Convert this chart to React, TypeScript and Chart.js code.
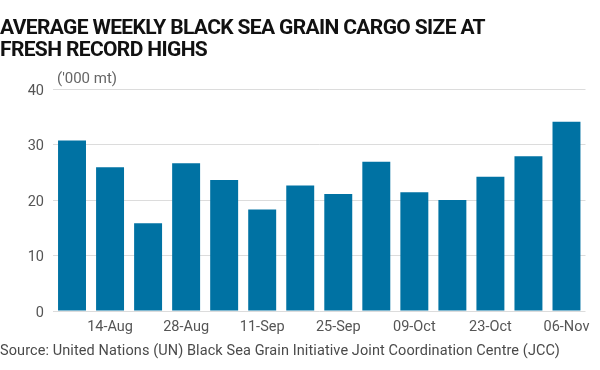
import React, { useEffect, useRef } from "react";
import { Chart, registerables } from "chart.js";

Chart.register(...registerables);

const categories = [
  "07-Aug", "14-Aug", "21-Aug", "28-Aug", "04-Sep", "11-Sep", "18-Sep",
  "25-Sep", "02-Oct", "09-Oct", "16-Oct", "23-Oct", "30-Oct", "06-Nov",
];
const cargoSize = [30.7, 25.9, 15.8, 26.6, 23.6, 18.3, 22.6, 21.1, 26.9, 21.4, 20.0, 24.2, 27.9, 34.1];
const yTicks = [0, 10, 20, 30, 40];

const titleLines = ["AVERAGE WEEKLY BLACK SEA GRAIN CARGO SIZE AT", "FRESH RECORD HIGHS"];
const unitText = "('000 mt)";
const sourceText = "Source: United Nations (UN) Black Sea Grain Initiative Joint Coordination Centre (JCC)";

const BAR = "#0072a3";
const FONT = "Roboto, 'Noto Sans', sans-serif";

function fitSpacing(el: HTMLElement | null, target: number, others: (HTMLElement | null)[] = []) {
  if (!el) return;
  el.style.letterSpacing = "0px";
  const w = el.getBoundingClientRect().width;
  const n = (el.textContent || "").length || 1;
  const ls = `${(target - w) / n}px`;
  el.style.letterSpacing = ls;
  others.forEach((o) => {
    if (o) o.style.letterSpacing = ls;
  });
}

export default function App() {
  const ref = useRef<HTMLCanvasElement | null>(null);
  const t1 = useRef<HTMLSpanElement | null>(null);
  const t2 = useRef<HTMLSpanElement | null>(null);
  const src = useRef<HTMLSpanElement | null>(null);

  useEffect(() => {
    fitSpacing(t1.current, 485, [t2.current]);
    fitSpacing(src.current, 560);
    if (!ref.current) return;
    const unitPlugin = {
      id: "unitLabel",
      afterDraw(chart: any) {
        const { ctx, chartArea } = chart;
        ctx.save();
        ctx.font = `15px ${FONT}`;
        ctx.fillStyle = "#666";
        ctx.textAlign = "left";
        ctx.textBaseline = "middle";
        ctx.fillText(unitText, chartArea.left + 4, chartArea.top - 10);
        ctx.restore();
      },
    };
    const chart = new Chart(ref.current, {
      type: "bar",
      data: {
        labels: categories,
        datasets: [
          {
            data: cargoSize,
            backgroundColor: BAR,
            borderWidth: 0,
            barPercentage: 0.735,
            categoryPercentage: 1,
          },
        ],
      },
      options: {
        animation: false,
        responsive: false,
        layout: { padding: { top: 89, right: 14.5, bottom: 28, left: 0 } },
        plugins: {
          legend: { display: false },
          tooltip: { enabled: false },
          title: { display: false },
        },
        scales: {
          x: {
            grid: { display: false, drawTicks: false },
            border: { display: false },
            ticks: {
              autoSkip: false,
              maxRotation: 0,
              padding: 8,
              color: "#555",
              font: { family: FONT, size: 14.5 },
              callback: (_v: any, i: number) => (i % 2 === 1 ? categories[i] : ""),
            },
            afterFit: (s: any) => {
              s.height = 31;
            },
          },
          y: {
            min: 0,
            max: 40,
            afterBuildTicks: (s: any) => {
              s.ticks = yTicks.map((v) => ({ value: v }));
            },
            grid: { color: "#dcdcdc", lineWidth: 1, drawTicks: false },
            border: { display: false },
            ticks: {
              padding: 9,
              labelOffset: 2,
              color: "#555",
              font: { family: FONT, size: 14.5 },
            },
            afterFit: (s: any) => {
              s.width = 53;
            },
          },
        },
      },
      plugins: [unitPlugin],
    });
    return () => chart.destroy();
  }, []);

  return (
    <div
      style={{
        position: "fixed",
        left: 0,
        top: 0,
        width: 600,
        height: 370,
        background: "#fff",
        overflow: "hidden",
      }}
    >
      <canvas ref={ref} width={600} height={370} style={{ position: "absolute", left: 0, top: 0 }} />
      <div
        style={{
          position: "absolute",
          left: 0,
          top: 16,
          fontFamily: FONT,
          fontWeight: 700,
          fontSize: 21,
          lineHeight: "22px",
          color: "#111",
          whiteSpace: "nowrap",
        }}
      >
        <div>
          <span ref={t1}>{titleLines[0]}</span>
        </div>
        <div>
          <span ref={t2}>{titleLines[1]}</span>
        </div>
      </div>
      <div
        style={{
          position: "absolute",
          left: 0,
          top: 342,
          fontFamily: FONT,
          fontSize: 14.5,
          lineHeight: "18px",
          color: "#4a4a4a",
          whiteSpace: "nowrap",
        }}
      >
        <span ref={src}>{sourceText}</span>
      </div>
    </div>
  );
}
